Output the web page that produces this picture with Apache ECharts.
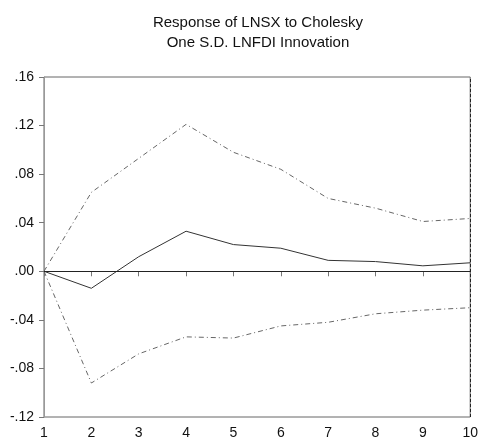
<!DOCTYPE html>
<html>
<head>
<meta charset="utf-8">
<script src="https://cdn.jsdelivr.net/npm/echarts@6/dist/echarts.min.js"></script>
<style>html,body{margin:0;padding:0;background:#fff;}#c{width:481px;height:441px;}</style>
</head>
<body>
<div id="c"></div>
<script>
// Impulse response horizon (periods)
var periods = [1, 2, 3, 4, 5, 6, 7, 8, 9, 10];
// Response of LNSX to a one S.D. LNFDI shock
var response = [0.000, -0.014, 0.012, 0.033, 0.022, 0.019, 0.009, 0.008, 0.0045, 0.007];
// +/- 2 S.E. bands
var upperBand = [0.000, 0.065, 0.093, 0.121, 0.098, 0.084, 0.060, 0.052, 0.041, 0.0435];
var lowerBand = [0.000, -0.092, -0.068, -0.054, -0.055, -0.045, -0.042, -0.035, -0.032, -0.030];
var yTicks = [-0.12, -0.08, -0.04, 0.00, 0.04, 0.08, 0.12, 0.16];

function pairs(v) { return periods.map(function (p, i) { return [p, v[i]]; }); }
function fmt(v) {
  var s = Math.abs(v).toFixed(2).replace(/^0/, '');
  return (v < -1e-9 ? '-' : '') + s;
}

var chart = echarts.init(document.getElementById('c'));
var font = 'Liberation Sans, Arial, sans-serif';
chart.setOption({
  animation: false,
  title: {
    text: 'Response of LNSX to Cholesky\nOne S.D. LNFDI Innovation',
    left: 253, top: 8, textAlign: 'center',
    textStyle: { fontFamily: font, fontSize: 15, fontWeight: 'normal', color: '#111', lineHeight: 20 }
  },
  grid: { left: 44, right: 9, top: 77, bottom: 24, show: true, borderColor: '#666', borderWidth: 1 },
  xAxis: {
    type: 'value', min: 1, max: 10, interval: 1,
    axisLine: { show: true, lineStyle: { color: '#999' } },
    axisTick: { show: true, length: 5, inside: false, lineStyle: { color: '#777' } },
    axisLabel: { fontFamily: font, fontSize: 14, color: '#111', margin: 9 },
    splitLine: { show: false }
  },
  yAxis: {
    type: 'value', min: yTicks[0], max: yTicks[yTicks.length - 1], interval: 0.04,
    axisLine: { show: true, lineStyle: { color: '#999' } },
    axisTick: { show: true, length: 5, lineStyle: { color: '#777' } },
    axisLabel: { fontFamily: font, fontSize: 14, color: '#111', margin: 10, formatter: fmt },
    splitLine: { show: false }
  },
  series: [
    {
      type: 'line', data: pairs(response), symbol: 'none',
      lineStyle: { color: '#333', width: 1 },
      markLine: {
        silent: true, symbol: 'none', label: { show: false },
        data: [
          { yAxis: 0, lineStyle: { color: '#222', width: 1, type: 'solid' } },
          { xAxis: 10, lineStyle: { color: '#222', width: 1, type: [3, 2] } }
        ]
      }
    },
    {
      type: 'line', data: pairs(upperBand), symbol: 'none',
      lineStyle: { color: '#666', width: 1, type: [5, 3, 1, 3] }
    },
    {
      type: 'line', data: pairs(lowerBand), symbol: 'none',
      lineStyle: { color: '#666', width: 1, type: [5, 3, 1, 3] }
    }
  ]
});
</script>
</body>
</html>
